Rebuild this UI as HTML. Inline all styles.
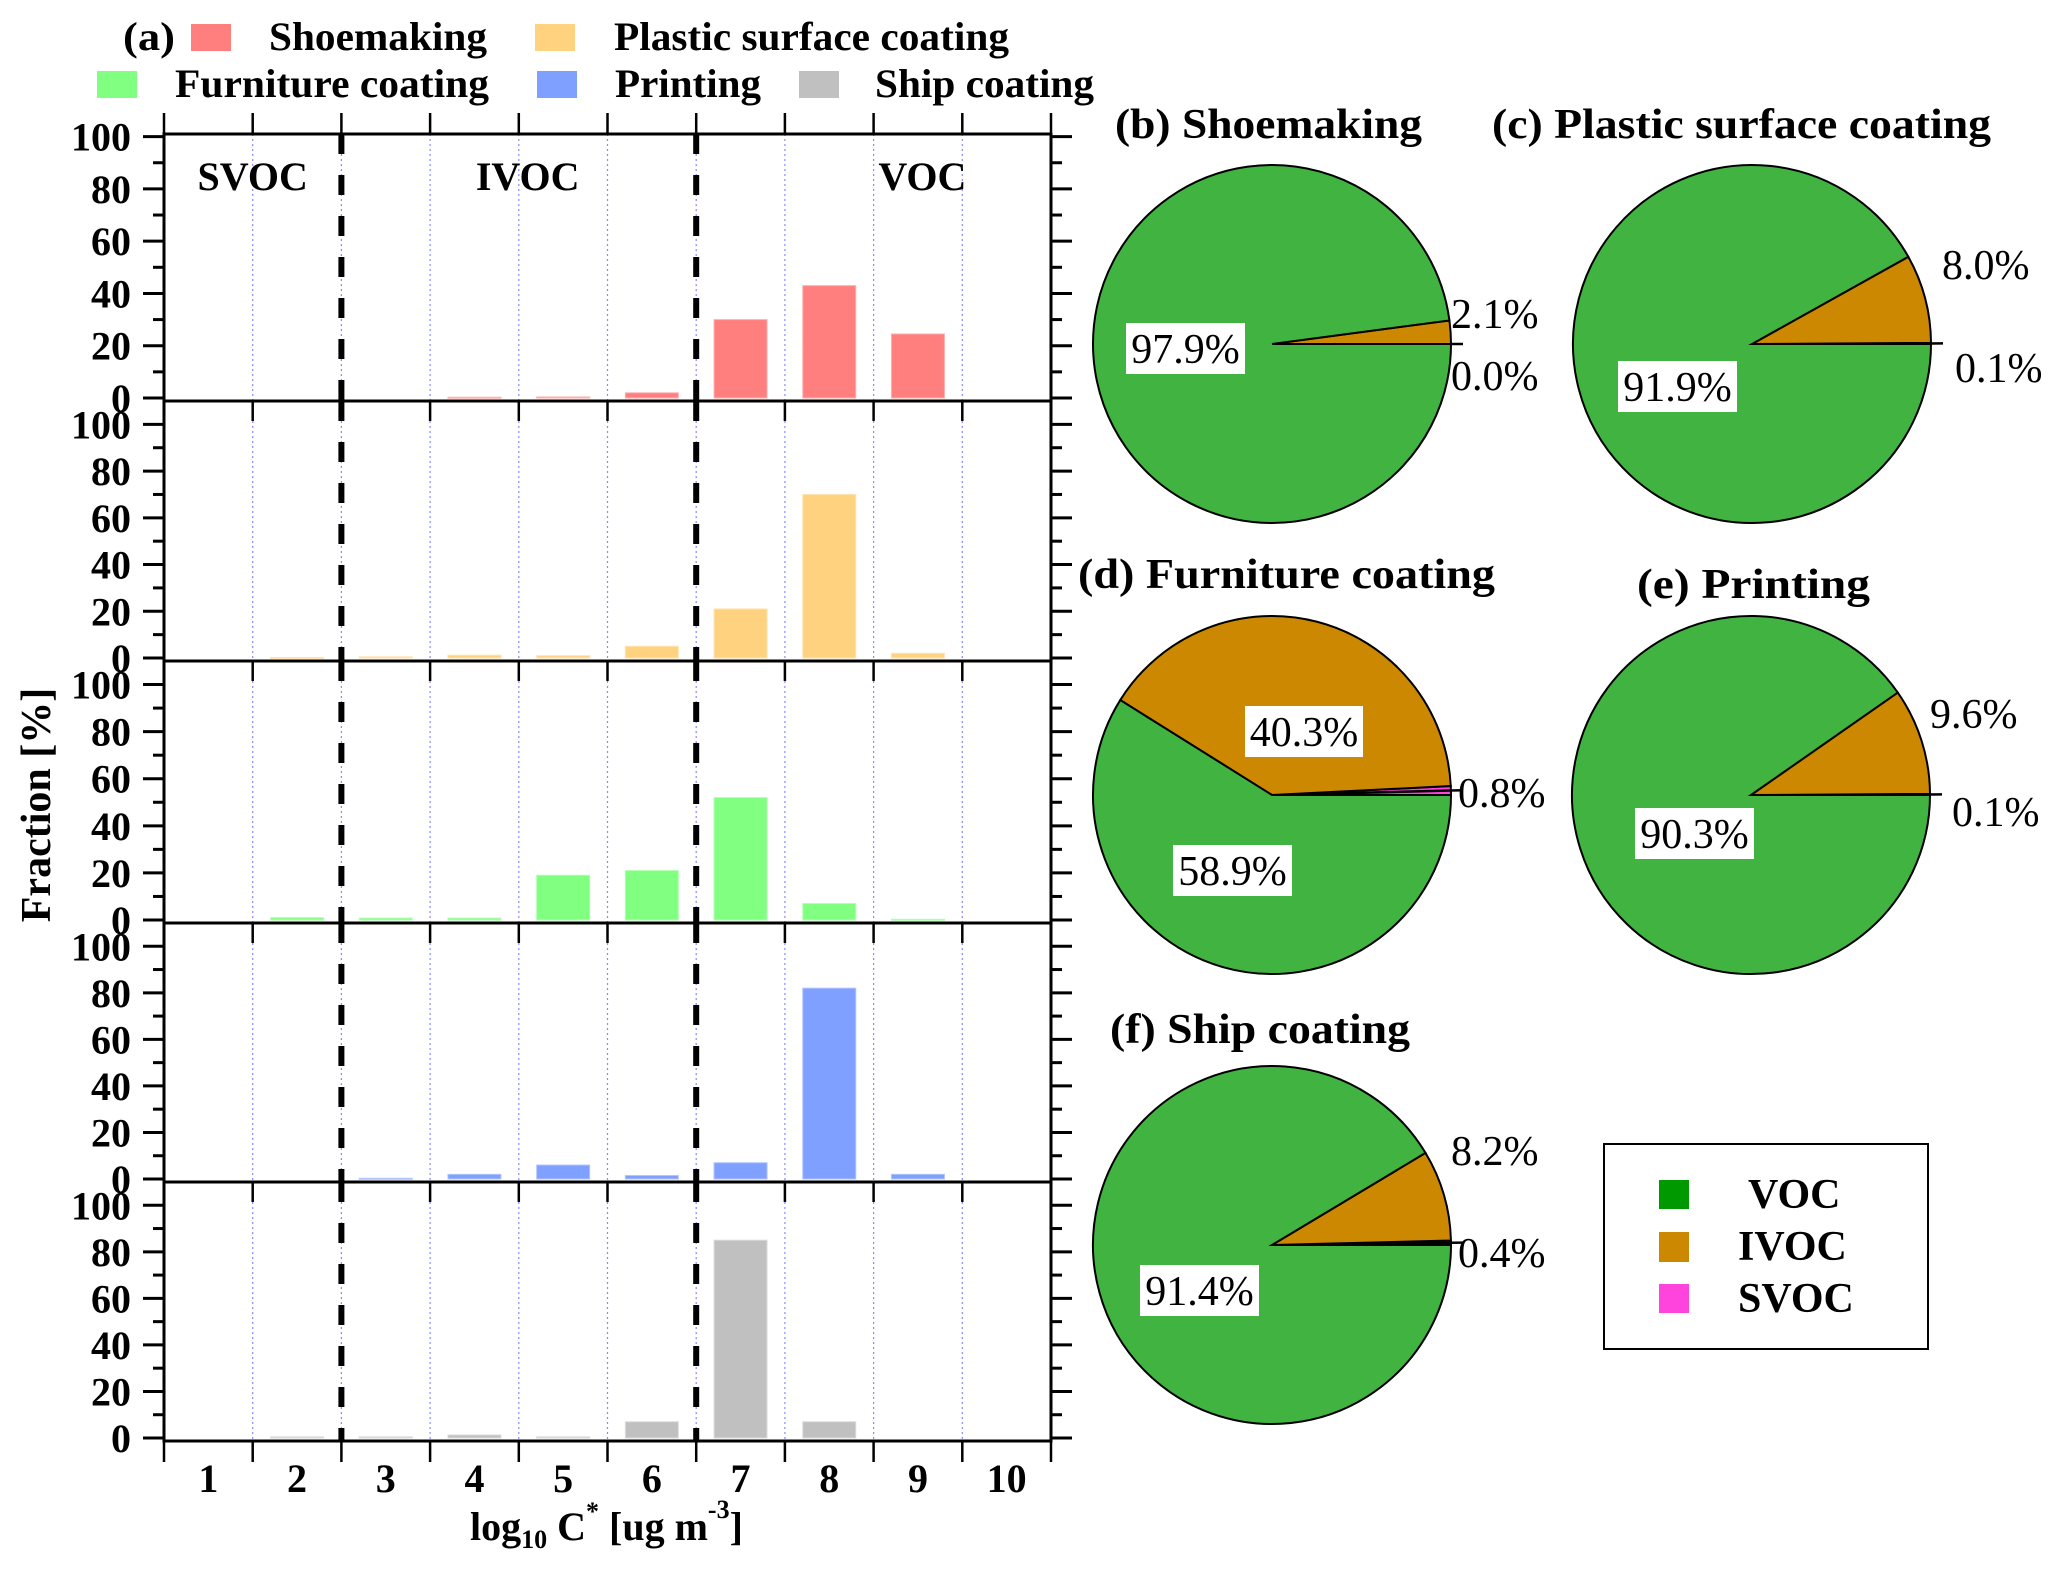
<!DOCTYPE html>
<html><head><meta charset="utf-8"><style>
html,body{margin:0;padding:0;background:#fff;}
svg{display:block;font-family:"Liberation Serif",serif;}
</style></head><body>
<svg id="fig" width="2067" height="1570" viewBox="0 0 2067 1570" xmlns="http://www.w3.org/2000/svg">
<rect width="2067" height="1570" fill="#fff"/>
<g id="bars-layer"></g>
<g id="pies-layer"></g>
<!-- legend (a) -->
<g font-weight="bold" font-size="40">
<text x="123" y="50" textLength="52" lengthAdjust="spacingAndGlyphs">(a)</text>
<rect x="191" y="24" width="40" height="27" fill="#ff7f7f"/>
<text x="269" y="50" textLength="218" lengthAdjust="spacingAndGlyphs">Shoemaking</text>
<rect x="535" y="24" width="40" height="27" fill="#ffd280"/>
<text x="614" y="50" textLength="395" lengthAdjust="spacingAndGlyphs">Plastic surface coating</text>
<rect x="97" y="71" width="40" height="27" fill="#80ff80"/>
<text x="175" y="97" textLength="314" lengthAdjust="spacingAndGlyphs">Furniture coating</text>
<rect x="537" y="71" width="40" height="27" fill="#80a0ff"/>
<text x="615" y="97" textLength="146" lengthAdjust="spacingAndGlyphs">Printing</text>
<rect x="799" y="71" width="40" height="27" fill="#c0c0c0"/>
<text x="875" y="97" textLength="219" lengthAdjust="spacingAndGlyphs">Ship coating</text>
</g>
<text x="50" y="805" font-weight="bold" font-size="42" text-anchor="middle" transform="rotate(-90 50 805)">Fraction [%]</text>
<text x="470" y="1540" font-weight="bold" font-size="40">log<tspan font-size="26" dy="8">10</tspan><tspan dy="-8"> C</tspan><tspan font-size="26" dy="-20">*</tspan><tspan dy="20">  [ug m</tspan><tspan font-size="26" dy="-22">-3</tspan><tspan dy="22">]</tspan></text>
<!-- pie legend -->
<g>
<rect x="1604" y="1144" width="324" height="205" fill="#fff" stroke="#000" stroke-width="2"/>
<rect x="1659" y="1180" width="30" height="29" fill="#009900"/>
<rect x="1659" y="1232" width="30" height="30" fill="#cc8800"/>
<rect x="1659" y="1284" width="30" height="29" fill="#ff44dd"/>
<g font-weight="bold" font-size="42">
<text x="1748" y="1208">VOC</text>
<text x="1738" y="1260">IVOC</text>
<text x="1738" y="1312">SVOC</text>
</g>
</g>
</svg>
<script>
// ---- bar chart data ----
const categories = [1,2,3,4,5,6,7,8,9,10];
const yTicks = [0,20,40,60,80,100];
const shoemaking = [0,0,0,0.3,0.4,2,30,43,24.5,0];
const plastic = [0,0.2,0.5,1.2,1,5,21,70,2,0];
const furniture = [0,1,0.8,0.8,19,21,52,7,0.3,0];
const printing = [0,0,0.3,2,6,1.5,7,82,2,0];
const ship = [0,0.5,0.5,1.3,0.5,7,85,7,0,0];
const panelYMax = [101,110,110,110,110];
const regionLabels = ["SVOC","IVOC","VOC"];
const regionLabelX = [1.5, 4.6, 9.05];
const regionBounds = [2.5, 6.5];

// ---- pie data (order: SVOC, IVOC, VOC counter-clockwise from 3 o'clock) ----
const pieTitles = ["(b) Shoemaking","(c) Plastic surface coating","(d) Furniture coating","(e) Printing","(f) Ship coating"];
const pieSVOC = [0.0,0.1,0.8,0.1,0.4];
const pieIVOC = [2.1,8.0,40.3,9.6,8.2];
const pieVOC = [97.9,91.9,58.9,90.3,91.4];

const NS = "http://www.w3.org/2000/svg";
function mk(tag, attrs, parent){const e=document.createElementNS(NS,tag);for(const k in attrs)e.setAttribute(k,attrs[k]);parent.appendChild(e);return e;}

const X0=164, X1=1051, CW=(X1-X0)/10;
const panelTop=[134,401,661,923,1182], panelBot=[401,661,923,1182,1441];
const series=[shoemaking,plastic,furniture,printing,ship];
const colors=["#ff7f7f","#ffd280","#80ff80","#80a0ff","#c0c0c0"];
const strokes=["#ffb0b0","#ffe4b0","#b0ffb0","#b0c4ff","#dcdcdc"];
const names=["shoemaking","plastic","furniture","printing","ship"];
const xPos = c => X0 + (c-0.5)*CW;
const bl=document.getElementById('bars-layer');

for(let p=0;p<5;p++){
  const top=panelTop[p], bot=panelBot[p];
  const zeroY = bot-3;
  const scale = (zeroY-top)/panelYMax[p];
  const yPos = v => zeroY - v*scale;
  const g=mk('g',{},bl);
  
  
  for(let i=1;i<10;i++){
    const l=mk('line',{x1:X0+i*CW,x2:X0+i*CW,y1:top,y2:bot,stroke:'#8888ff','stroke-width':1.2,'stroke-dasharray':'2,3'},g);
    
    
  }
  series[p].forEach((v,i)=>{
    if(v<=0) return;
    const cx=xPos(categories[i]); const y=yPos(v);
    const r=mk('rect',{x:cx-26.5,y:y,width:53,height:Math.max(zeroY-y,1),fill:colors[p],stroke:strokes[p],'stroke-width':1},g);
    
    
  });
  regionBounds.forEach(b=>{
    const xb=xPos(b);
    const l=mk('line',{x1:xb,x2:xb,y1:top,y2:bot,stroke:'#000','stroke-width':6,'stroke-dasharray':'20,21'},g);
    
    
  });
  const fr=mk('rect',{x:X0,y:top,width:X1-X0,height:bot-top,fill:'none',stroke:'#000','stroke-width':3},g);
  
  
  for(let v=0; v<=100; v+=10){
    const y=yPos(v); const major=v%20===0; const len=major?21:11;
    mk('line',{x1:X0-len,x2:X0,y1:y,y2:y,stroke:'#000','stroke-width':3},g);
    mk('line',{x1:X1,x2:X1+len,y1:y,y2:y,stroke:'#000','stroke-width':3},g);
  }
  yTicks.forEach(v=>{
    const t=mk('text',{x:131,y:yPos(v)+14,'text-anchor':'end','font-weight':'bold','font-size':40},g);
    t.textContent=v;
    
    
  });
  for(let i=0;i<=10;i++){
    const x=X0+i*CW;
    if(p===0) mk('line',{x1:x,x2:x,y1:top-21,y2:top,stroke:'#000','stroke-width':2.5},g);
    else mk('line',{x1:x,x2:x,y1:top,y2:top+20,stroke:'#000','stroke-width':2.5},g);
    if(p===4) mk('line',{x1:x,x2:x,y1:bot,y2:bot+21,stroke:'#000','stroke-width':2.5},g);
  }
  if(p===0){
    regionLabels.forEach((s,i)=>{
      const t=mk('text',{x:xPos(regionLabelX[i]),y:190,'text-anchor':'middle','font-weight':'bold','font-size':40},g);
      t.textContent=s;
      
      
    });
  }
  if(p===4){
    categories.forEach(c=>{
      const t=mk('text',{x:xPos(c),y:1492,'text-anchor':'middle','font-weight':'bold','font-size':40},g);
      t.textContent=c;
      
      
    });
  }
}

// ---- pies ----
const pl=document.getElementById('pies-layer');
const pieCx=[1272,1752,1272,1751,1272], pieCy=[344,344,795,795,1245], R=179;
const titlePos=[[1115,138],[1492,138],[1078,588],[1637,598],[1110,1043]];
const titleLen=[307,499,417,233,300];
const vocBox=[[1126,323],[1618,361],[1173,845],[1635,808],[1140,1265]];
const ivocLbl=[[1451,328],[1942,279],[1245,706],[1930,728],[1451,1165]];
const svocLbl=[[1451,390],[1955,382],[1458,807],[1952,826],[1458,1267]];
const pieCols=["#ff44dd","#cc8800","#41b341"];
function pt(cx,cy,r,a){return [cx+r*Math.cos(a), cy-r*Math.sin(a)];}
for(let k=0;k<5;k++){
  const g=mk('g',{},pl);
  
  
  const cx=pieCx[k], cy=pieCy[k];
  const vals=[pieSVOC[k],pieIVOC[k],pieVOC[k]];
  const tot=vals[0]+vals[1]+vals[2];
  let a0=0;
  const sliceNames=['svoc','ivoc','voc'];
  vals.forEach((v,i)=>{
    const a1=a0+v/tot*2*Math.PI;
    const p0=pt(cx,cy,R,a0), p1=pt(cx,cy,R,a1);
    const large=(a1-a0)>Math.PI?1:0;
    const d=`M${cx},${cy} L${p0[0]},${p0[1]} A${R},${R} 0 ${large} 0 ${p1[0]},${p1[1]} Z`;
    const s=mk('path',{d:d,fill:pieCols[i],stroke:'#000','stroke-width':2},g);
    
    
    if(i===0){
      const m=(a0+a1)/2; const q0=pt(cx,cy,R,m), q1=pt(cx,cy,R+12,m);
      mk('line',{x1:q0[0],y1:q0[1],x2:q1[0],y2:q1[1],stroke:'#000','stroke-width':2.5},g);
      mk('line',{x1:cx,y1:cy,x2:q0[0],y2:q0[1],stroke:'#000','stroke-width':2.5},g);
    }
    a0=a1;
  });
  const tt=mk('text',{x:titlePos[k][0],y:titlePos[k][1],'font-weight':'bold','font-size':42,textLength:titleLen[k],lengthAdjust:'spacingAndGlyphs'},g);
  tt.textContent=pieTitles[k];
  
  
  const bx=vocBox[k][0], by=vocBox[k][1];
  mk('rect',{x:bx,y:by,width:119,height:51,fill:'#fff'},g);
  const tv=mk('text',{x:bx+59.5,y:by+40,'text-anchor':'middle','font-size':42},g);
  tv.textContent=pieVOC[k].toFixed(1)+'%';
  
  
  let ix=ivocLbl[k][0], iy=ivocLbl[k][1];
  if(k===2){
    mk('rect',{x:ix,y:iy,width:118,height:51,fill:'#fff'},g);
    ix+=59; iy+=40;
  }
  const ti=mk('text',{x:ix,y:iy,'font-size':42,'text-anchor':k===2?'middle':'start'},g);
  ti.textContent=pieIVOC[k].toFixed(1)+'%';
  
  
  const ts=mk('text',{x:svocLbl[k][0],y:svocLbl[k][1],'font-size':42},g);
  ts.textContent=pieSVOC[k].toFixed(1)+'%';
  
  
}
</script>
</body></html>
